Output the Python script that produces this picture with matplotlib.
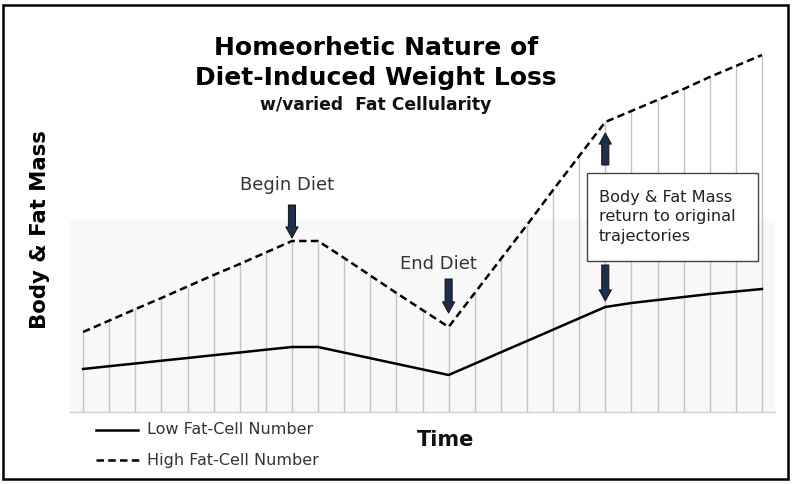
import matplotlib.pyplot as plt
from matplotlib.patches import Rectangle

plt.rcParams['font.family'] = ['DejaVu Sans']

# --- data (arbitrary mass units) ---
time_idx = list(range(27))
high_cells = [80, 91.4, 102.8, 114, 125.5, 137, 148, 159.5, 171, 171,
              154, 136.5, 119, 102, 85, 119, 153, 187, 222, 256, 290,
              301, 312, 323, 335, 346, 357]
low_cells = [43, 45.8, 48.5, 51.3, 54, 56.8, 59.5, 62.3, 65, 65,
             59.4, 53.8, 48.2, 42.6, 37, 48.3, 59.7, 71, 82.3, 93.7, 105,
             109, 112, 115, 118, 120.5, 123]
begin_idx, end_idx, return_idx = 8, 14, 20

W, H = 793, 484
fig = plt.figure(figsize=(W / 100, H / 100), dpi=100)


def fx(x):
    return x / W


def fy(y):
    return 1 - y / H


# axes: plot area 70..775 px wide, 40..412 px tall
ax = fig.add_axes([fx(70), fy(412), fx(705), 372 / H])
ax.set_xlim(-0.5, 26.5)
ax.set_ylim(0, 372)

# faint grey plot-area fill
ax.axhspan(0, 192, color='#f8f8f8', zorder=0, lw=0)

# drop lines from the axis up to the high curve
ax.vlines(time_idx, 0, high_cells, color='#c4c4c4', lw=1.0, zorder=1)

ax.plot(time_idx, low_cells, color='black', lw=1.8, zorder=3)
ax.plot(time_idx, high_cells, color='black', lw=1.8, dashes=(3, 1.7), zorder=3)

for s in ['top', 'left', 'right']:
    ax.spines[s].set_visible(False)
ax.spines['bottom'].set_color('#cfcfcf')
ax.spines['bottom'].set_linewidth(1.0)
ax.set_xticks([])
ax.set_yticks([])

# arrows
arrow_kw = dict(arrowstyle='simple,head_length=0.5,head_width=0.55,tail_width=0.32',
                fc='#1e2f4d', ec='#111111', lw=0.7, shrinkA=0, shrinkB=0,
                mutation_scale=16)


def arrow(x, y_tail, y_tip):
    ax.annotate('', xy=(x, y_tip), xytext=(x, y_tail),
                arrowprops=arrow_kw, zorder=4)


arrow(begin_idx, high_cells[begin_idx] + 36, high_cells[begin_idx] + 3)
arrow(end_idx, high_cells[end_idx] + 48, high_cells[end_idx] + 14)
arrow(return_idx, high_cells[return_idx] - 43, high_cells[return_idx] - 11)
arrow(return_idx, low_cells[return_idx] + 42, low_cells[return_idx] + 6)

ax.text(7.81, 227, 'Begin Diet', ha='center', va='center', fontsize=13,
        color='#333333')
ax.text(13.6, 148, 'End Diet', ha='center', va='center', fontsize=13,
        color='#333333')

# callout box
ax.add_patch(Rectangle((19.3, 151), 6.54, 88, fc='white', ec='#444444',
                       lw=1.0, zorder=5))
ax.text(19.75, 195, 'Body & Fat Mass\nreturn to original\ntrajectories',
        ha='left', va='center', fontsize=11.6, linespacing=1.38,
        color='#222222', zorder=6)

# titles and labels
fig.text(fx(376), fy(48), 'Homeorhetic Nature of', ha='center', va='center',
         fontsize=18, fontweight='bold')
fig.text(fx(376), fy(78), 'Diet-Induced Weight Loss', ha='center', va='center',
         fontsize=18, fontweight='bold')
fig.text(fx(376), fy(105), 'w/varied  Fat Cellularity', ha='center', va='center',
         fontsize=12.3, fontweight='bold', color='#111111')
fig.text(fx(40), fy(230), 'Body & Fat Mass', rotation=90, ha='center',
         va='center', fontsize=15.3, fontweight='bold')
fig.text(fx(446), fy(440), 'Time', ha='center', va='center', fontsize=15,
         fontweight='bold', color='#111111')

# legend drawn by hand, like the original
fig.add_artist(plt.Line2D([fx(96), fx(138)], [fy(430), fy(430)], color='black', lw=1.8))
fig.add_artist(plt.Line2D([fx(96), fx(140)], [fy(460), fy(460)], color='black', lw=1.8,
                          dashes=(3, 1.7)))
fig.text(fx(147), fy(430), 'Low Fat-Cell Number', ha='left', va='center',
         fontsize=11.5, color='#333333')
fig.text(fx(147), fy(460), 'High Fat-Cell Number', ha='left', va='center',
         fontsize=11.5, color='#333333')

# outer frame
fig.add_artist(Rectangle((fx(3), fy(479)), fx(785), 474 / H, fill=False,
                         ec='black', lw=1.8, transform=fig.transFigure))

fig.savefig('out.png', dpi=100)
